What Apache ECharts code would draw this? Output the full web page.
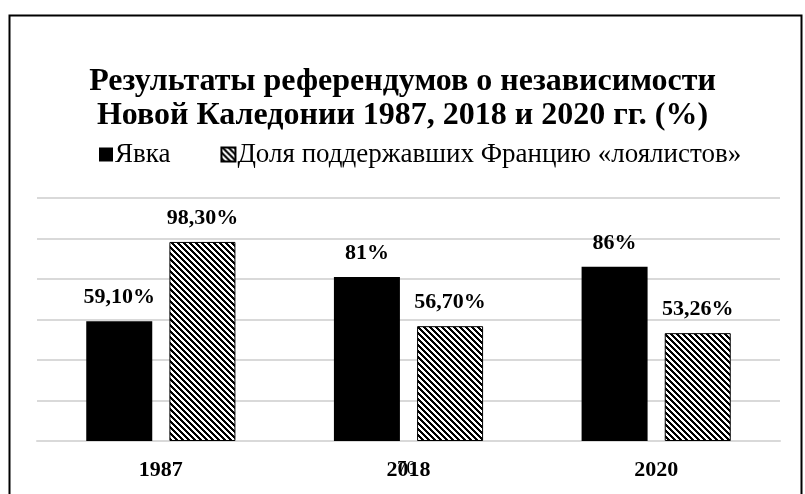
<!DOCTYPE html>
<html><head><meta charset="utf-8">
<script src="https://cdn.jsdelivr.net/npm/echarts@6/dist/echarts.min.js"></script>
<style>html,body{margin:0;padding:0;background:#fff}#c{width:805px;height:494px}</style>
</head><body><div id="c"></div>
<script>
const categories = ['1987', '2018', '2020'];
const turnout = [59.10, 81, 86];
const loyalists = [98.30, 56.70, 53.26];
const turnoutLabels = ['59,10%', '81%', '86%'];
const loyalLabels = ['98,30%', '56,70%', '53,26%'];
const seriesNames = ['Явка', 'Доля поддержавших Францию «лоялистов»'];

function hatch() {
  const s = 6, c = document.createElement('canvas');
  c.width = s; c.height = s;
  const ctx = c.getContext('2d');
  const img = ctx.createImageData(s, s);
  for (let y = 0; y < s; y++) for (let x = 0; x < s; x++) {
    const k = (((x - y) % s) + s) % s;
    const v = k < 3 ? 0 : 255;
    const i = (y * s + x) * 4;
    img.data[i] = v; img.data[i+1] = v; img.data[i+2] = v; img.data[i+3] = 255;
  }
  ctx.putImageData(img, 0, 0);
  return { image: c, repeat: 'repeat' };
}
const font = '"Liberation Serif","Times New Roman",serif';
const chart = echarts.init(document.getElementById('c'), null, { renderer: 'canvas' });
chart.setOption({
  animation: false,
  backgroundColor: '#fff',
  title: {
    text: 'Результаты референдумов о независимости\nНовой Каледонии 1987, 2018 и 2020 гг. (%)',
    left: 'center', top: 60,
    textStyle: { fontFamily: font, fontSize: 32, fontWeight: 'bold', color: '#000', lineHeight: 34 }
  },
  legend: {
    top: 136, left: 94, itemWidth: 14, itemHeight: 14, itemGap: 50, icon: 'rect',
    textStyle: { fontFamily: font, fontSize: 27, color: '#000', padding: [0, 0, 0, -3] },
    data: seriesNames
  },
  grid: { left: 37, right: 25, top: 198, bottom: 53 },
  xAxis: {
    type: 'category', data: categories,
    axisLine: { show: true, lineStyle: { color: '#d9d9d9', width: 2 } },
    axisTick: { show: false },
    axisLabel: { fontFamily: font, fontSize: 22, fontWeight: 'bold', color: '#000', margin: 18 }
  },
  yAxis: {
    type: 'value', min: 0, max: 120, interval: 20,
    axisLabel: { show: false }, axisLine: { show: false }, axisTick: { show: false },
    splitLine: { lineStyle: { color: '#d9d9d9', width: 2 } }
  },
  series: [
    {
      name: seriesNames[0], type: 'bar', data: turnout, barWidth: 66, barGap: '26%',
      itemStyle: { color: '#000' },
      label: { show: true, position: 'top', distance: 13, fontFamily: font, fontSize: 22, fontWeight: 'bold', color: '#000',
        formatter: p => turnoutLabels[p.dataIndex] }
    },
    {
      name: seriesNames[1], type: 'bar', data: loyalists, barWidth: 66,
      itemStyle: { color: hatch(), borderColor: '#000', borderWidth: 1 },
      label: { show: true, position: 'top', distance: 13, fontFamily: font, fontSize: 22, fontWeight: 'bold', color: '#000',
        formatter: p => loyalLabels[p.dataIndex] }
    }
  ],
  graphic: [
    { type: 'rect', left: 7, top: 13, shape: { width: 792, height: 490 }, style: { fill: 'none', stroke: '#000', lineWidth: 2 } },
    { type: 'text', left: 397, top: 460, style: { text: '70', font: '19px "Liberation Serif", serif', fill: '#000' } }
  ]
});
</script></body></html>
